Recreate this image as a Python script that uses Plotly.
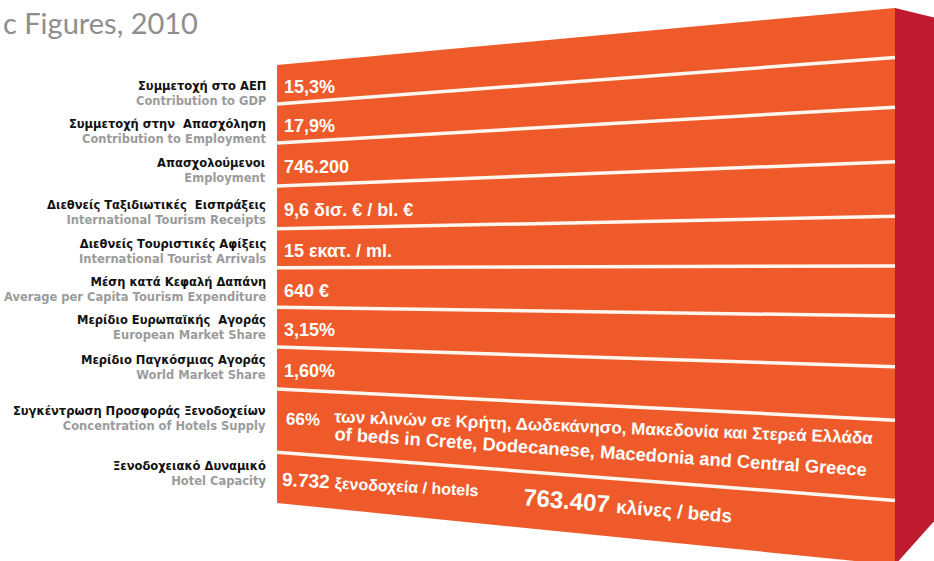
import plotly.graph_objects as go

# ---------------- data ----------------
labels_el = [
    "Συμμετοχή στο ΑΕΠ",
    "Συμμετοχή στην  Απασχόληση",
    "Απασχολούμενοι",
    "Διεθνείς Ταξιδιωτικές  Εισπράξεις",
    "Διεθνείς Τουριστικές Αφίξεις",
    "Μέση κατά Κεφαλή Δαπάνη",
    "Μερίδιο Ευρωπαϊκής  Αγοράς",
    "Μερίδιο Παγκόσμιας Αγοράς",
    "Συγκέντρωση Προσφοράς Ξενοδοχείων",
    "Ξενοδοχειακό Δυναμικό",
]
labels_en = [
    "Contribution to GDP",
    "Contribution to Employment",
    "Employment",
    "International Tourism Receipts",
    "International Tourist Arrivals",
    "Average per Capita Tourism Expenditure",
    "European Market Share",
    "World Market Share",
    "Concentration of Hotels Supply",
    "Hotel Capacity",
]
values = ["15,3%", "17,9%", "746.200", "9,6 δισ. € / bl. €",
          "15 εκατ. / ml.", "640 €", "3,15%", "1,60%"]
conc_pct = "66%"
conc_el = "των κλινών σε Κρήτη, Δωδεκάνησο, Μακεδονία και Στερεά Ελλάδα"
conc_en = "of beds in Crete, Dodecanese, Macedonia and Central Greece"
hotels_n, hotels_txt = "9.732", "ξενοδοχεία / hotels"
beds_n, beds_txt = "763.407", "κλίνες / beds"
title_text = "c Figures, 2010"

# ---------------- layout geometry ----------------
W, H = 934, 561
XL, XR = 277, 895
TOP_L, TOP_R = 65, 8
BOT_L, BOT_R = 503, 565
ROW_F = [0, .089, .178, .276, .374, .463, .553, .644, .740, .884, 1.0]
ORANGE = "#EF5A2A"
CRIMSON = "#BE1B2E"
SEP = "#FFF6EE"


def fy(x, f):
    t = (x - XL) / (XR - XL)
    top = TOP_L + (TOP_R - TOP_L) * t
    bot = BOT_L + (BOT_R - BOT_L) * t
    return top + f * (bot - top)


fig = go.Figure()

# side face
fig.add_trace(go.Scatter(
    x=[XR, 960, 960, XR, XR], y=[TOP_R, 24, 492, BOT_R, TOP_R],
    fill="toself", fillcolor=CRIMSON, mode="lines", line=dict(width=0),
    hoverinfo="skip", showlegend=False))
# front face
fig.add_trace(go.Scatter(
    x=[XL, XR, XR, XL, XL], y=[TOP_L, TOP_R, BOT_R, BOT_L, TOP_L],
    fill="toself", fillcolor=ORANGE, mode="lines", line=dict(width=0),
    hoverinfo="skip", showlegend=False))
# separators
for f in ROW_F[1:-1]:
    fig.add_trace(go.Scatter(
        x=[XL, XR], y=[fy(XL, f), fy(XR, f)], mode="lines",
        line=dict(color=SEP, width=3.5), hoverinfo="skip", showlegend=False))

ann = []
LBL = "DejaVu Sans, Open Sans, sans-serif"
VAL = "Liberation Sans, Arial, sans-serif"
for i, (g, e) in enumerate(zip(labels_el, labels_en)):
    fc = (ROW_F[i] + ROW_F[i + 1]) / 2
    yc = fy(XL, fc) + 9.5 - 1.5 * i
    ann.append(dict(x=268, y=yc,
                    text="<b>%s</b><br><b><span style='color:#9B9B9B'>%s</span></b>" % (g, e),
                    xanchor="right", yanchor="middle", align="right", showarrow=False,
                    font=dict(family=LBL, size=11.5, color="#111111")))

for i, v in enumerate(values):
    fc = (ROW_F[i] + ROW_F[i + 1]) / 2
    ann.append(dict(x=282, y=fy(282, fc) + 3, text="<b>%s</b>" % v,
                    xanchor="left", yanchor="middle", showarrow=False,
                    font=dict(family=VAL, size=18, color="white")))

# concentration row
ann.append(dict(x=303, y=fy(303, 0.805), text="<b>%s</b>" % conc_pct,
                xanchor="center", yanchor="middle", showarrow=False, textangle=2,
                font=dict(family=VAL, size=17, color="white")))
ann.append(dict(x=603, y=fy(603, 0.783), text="<b>%s</b>" % conc_el,
                xanchor="center", yanchor="middle", showarrow=False, textangle=2.3,
                font=dict(family=VAL, size=17, color="white")))
ann.append(dict(x=600, y=fy(600, 0.833), text="<b>%s</b>" % conc_en,
                xanchor="center", yanchor="middle", showarrow=False, textangle=3.9,
                font=dict(family=VAL, size=18.3, color="white")))
# hotel capacity row
ann.append(dict(x=380, y=fy(380, 0.938),
                text="<b>%s <span style='font-size:16px'>%s</span></b>" % (hotels_n, hotels_txt),
                xanchor="center", yanchor="middle", showarrow=False, textangle=3,
                font=dict(family=VAL, size=19, color="white")))
ann.append(dict(x=628, y=fy(628, 0.936),
                text="<b>%s <span style='font-size:19px'>%s</span></b>" % (beds_n, beds_txt),
                xanchor="center", yanchor="middle", showarrow=False, textangle=4.8,
                font=dict(family=VAL, size=24, color="white")))

# title fragment
ann.append(dict(x=1, y=22, text=title_text, xanchor="left", yanchor="middle",
                showarrow=False, font=dict(family="Lato, Open Sans, sans-serif",
                                           size=29, color="#8E8E8E")))

fig.update_layout(
    width=W, height=H, margin=dict(l=0, r=0, t=0, b=0),
    paper_bgcolor="white", plot_bgcolor="white",
    xaxis=dict(range=[0, W], visible=False, fixedrange=True),
    yaxis=dict(range=[H, 0], visible=False, fixedrange=True),
    annotations=ann, showlegend=False,
)
fig.write_html("out.html", config={"displayModeBar": False},
               post_script="document.body.style.margin='0px';document.body.style.overflow='hidden';")
